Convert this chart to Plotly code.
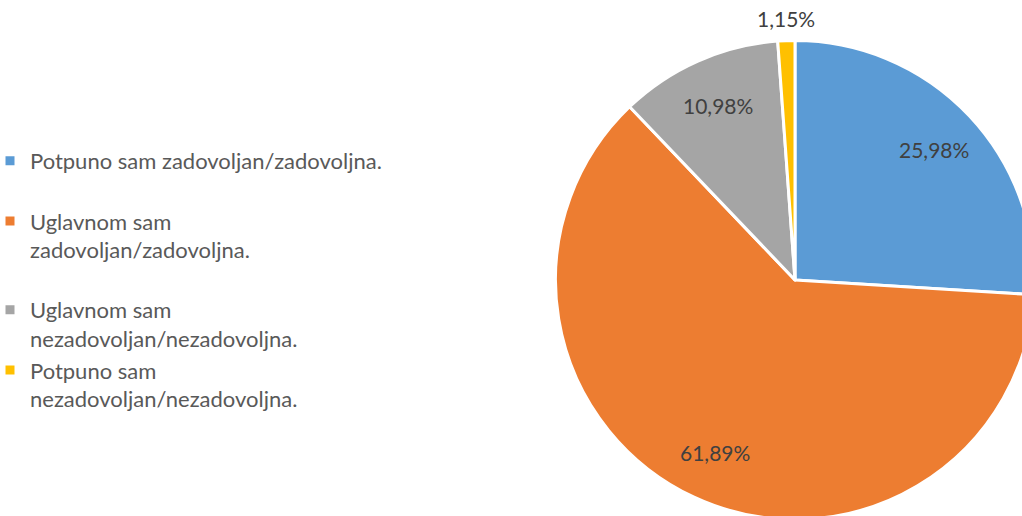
import math
import plotly.graph_objects as go

labels = [
    "Potpuno sam zadovoljan/zadovoljna.",
    "Uglavnom sam zadovoljan/zadovoljna.",
    "Uglavnom sam nezadovoljan/nezadovoljna.",
    "Potpuno sam nezadovoljan/nezadovoljna.",
]
legend_text = [
    "Potpuno sam zadovoljan/zadovoljna.<br> ",
    "Uglavnom sam<br>zadovoljan/zadovoljna.<br> ",
    "Uglavnom sam<br>nezadovoljan/nezadovoljna.",
    "Potpuno sam<br>nezadovoljan/nezadovoljna.",
]
values = [25.98, 61.89, 10.98, 1.15]
colors = ["#5B9BD5", "#ED7D31", "#A5A5A5", "#FFC000"]
label_outside = [False, False, False, True]

SHIFT = 10            # page is shifted left by this many px
W, H = 1100, 600
cx, cy, r = 795 + SHIFT, 280, 239.5
r_vis = r - 1.5

fig = go.Figure(go.Pie(
    labels=legend_text,
    values=values,
    sort=False,
    direction="clockwise",
    rotation=0,
    marker=dict(colors=colors, line=dict(color="white", width=3)),
    textinfo="none",
    hoverinfo="label+percent",
    domain=dict(x=[(cx - r) / W, (cx + r) / W],
                y=[(H - cy - r) / H, (H - cy + r) / H]),
))

# data labels placed along each slice's bisector
total = sum(values)
cum = 0.0
for v, out in zip(values, label_outside):
    ang = 2 * math.pi * (cum + v / 2) / total
    cum += v
    f = 1.1 if out else 0.8
    px = cx + f * r_vis * math.sin(ang)
    py = cy - f * r_vis * math.cos(ang)
    fig.add_annotation(
        x=px / W, y=1 - py / H, xref="paper", yref="paper",
        text=f"{v:.2f}%".replace(".", ","),
        showarrow=False, xanchor="center", yanchor="middle",
        font=dict(family="Lato", size=21, color="#404040"),
    )

fig.update_layout(
    width=W, height=H,
    margin=dict(l=0, r=0, t=0, b=0),
    paper_bgcolor="white",
    separators=", ",
    showlegend=True,
    legend=dict(
        x=0, xanchor="left",
        y=1 - 140 / H, yanchor="top",
        valign="top",
        font=dict(family="Lato", size=22, color="#595959"),
        bgcolor="rgba(0,0,0,0)",
    ),
)

post = ("document.documentElement.style.overflow='hidden';"
        "document.body.style.overflow='hidden';"
        "document.body.style.margin='0';"
        "document.body.style.marginLeft='-%dpx';" % SHIFT)
fig.write_html("out.html", post_script=post)
